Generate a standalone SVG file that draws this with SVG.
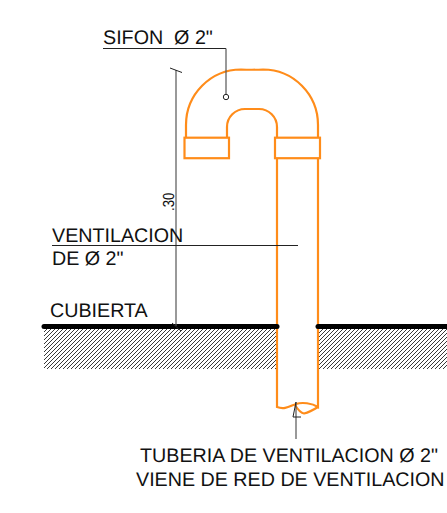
<svg xmlns="http://www.w3.org/2000/svg" width="447" height="513" viewBox="0 0 447 513">
<style>
text{font-family:"Liberation Sans",Arial,sans-serif;font-size:19.700px;fill:#111;text-rendering:geometricPrecision}
.o{fill:none;stroke:#ff8c1a;stroke-width:2.2}
.l{fill:none;stroke:#555;stroke-width:1.2}
.k{fill:none;stroke:#222;stroke-width:1}
.r{fill:none;stroke:#000;stroke-width:5;stroke-linecap:round}
</style>
<defs>
<pattern id="h" width="4" height="4" patternUnits="userSpaceOnUse">
<path d="M-1 1L1 -1M0 4L4 0M3 5L5 3" stroke="#222" stroke-width="0.9" fill="none"/>
</pattern>
</defs>
<g id="ground">
<rect x="44" y="329" width="233" height="40" fill="url(#h)"/>
<rect x="318" y="329" width="129" height="40" fill="url(#h)"/>
</g>
<g id="pipe">
<path class="o" d="M186 137V125A55 55.500 0 0 1 241 69.500Q252 70 263 69.500A55 55.500 0 0 1 318 125V137"/>
<path class="o" d="M227 137V127A18 18 0 0 1 245 109H259A18 18 0 0 1 277 127V137"/>
<rect class="o" x="184.500" y="137.700" width="44.500" height="20.500"/>
<rect class="o" x="275" y="137.700" width="45" height="20.500"/>
<path class="o" d="M277 158V407C285 410 290 406 296 404C302 402 312 403 318 407V158"/>
<path class="o" d="M295 405Q300 413 304 413.500Q310 412 318 407"/>
</g>
<g id="roof">
<path class="r" d="M44 326.500H277"/>
<path class="r" d="M318 326.500H449"/>
</g>
<g id="connectors">
<path class="k" d="M103 48.500H226"/>
<path class="l" d="M226 48.500V94"/>
<circle cx="226" cy="97" r="2.700" fill="#fff" stroke="#222" stroke-width="1"/>
<path class="l" d="M176 70V326"/>
<path class="k" d="M170 68L182 72.500M172 323L181 331"/>
<path class="k" d="M52 245.500H298"/>
<path class="l" d="M296 402V439"/>
<path class="k" d="M296 402L293 417H301"/>
</g>
<g id="label-sifon"><text x="103" y="44" xml:space="preserve">SIFON  Ø 2"</text></g>
<g id="label-dim"><text x="0" y="0" transform="translate(174 211) rotate(-90) scale(0.82 1)" style="font-size:16px">.30</text></g>
<g id="label-ventilacion">
<text x="52" y="241.500">VENTILACION</text>
<text x="52" y="265">DE Ø 2"</text>
</g>
<g id="label-cubierta"><text x="50" y="317">CUBIERTA</text></g>
<g id="label-tuberia">
<text x="140" y="462">TUBERIA DE VENTILACION Ø 2"</text>
<text x="136" y="485.500">VIENE DE RED DE VENTILACION</text>
</g>
</svg>
